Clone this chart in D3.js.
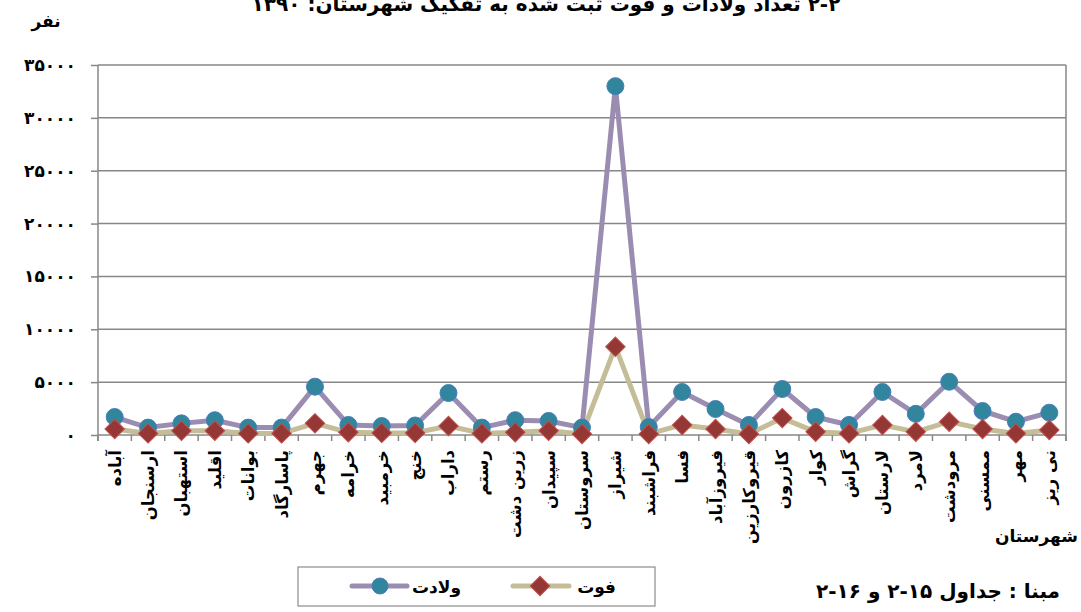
<!DOCTYPE html>
<html><head><meta charset="utf-8">
<script src="https://cdn.jsdelivr.net/npm/d3@7"></script>
<style>
html,body{margin:0;padding:0;background:#fff;}
svg{display:block;font-family:"DejaVu Sans",sans-serif;font-weight:bold;}
</style></head>
<body>
<svg id="c" width="1081" height="612"></svg>
<script>
const categories = ["آباده","ارسنجان","استهبان","اقلید","بوانات","پاسارگاد","جهرم","خرامه","خرمبید","خنج","داراب","رستم","زرین دشت","سپیدان","سروستان","شیراز","فراشبند","فسا","فیروزآباد","قیروکارزین","کازرون","کوار","گراش","لارستان","لامرد","مرودشت","ممسنی","مهر","نی ریز"];
const births = [1700,700,1100,1400,700,700,4570,950,850,900,3970,700,1400,1330,700,33000,750,4070,2460,950,4350,1700,950,4070,2000,5040,2270,1260,2110];
const deaths = [570,150,400,400,150,150,1100,250,200,200,850,150,250,400,100,8350,100,950,570,100,1600,300,150,950,300,1260,570,150,470];
const yTicks = [0,5000,10000,15000,20000,25000,30000,35000];
const seriesNames = ["ولادت","فوت"];
const titleText = "۲-۲ تعداد ولادات و فوت ثبت شده به تفکیک شهرستان: ۱۳۹۰";
const yTitle = "نفر";
const xTitle = "شهرستان";
const sourceText = "مبنا : جداول ۱۵-۲ و ۱۶-۲";

const fa = s => String(s).replace(/\d/g, d => "۰۱۲۳۴۵۶۷۸۹"[d]);

const svg = d3.select("#c");
const L = 98, R = 1066, T = 65, B = 435;
const x = d3.scaleBand().domain(categories).range([L, R]);
const y = d3.scaleLinear().domain([0, 35000]).range([B, T]);
const axisCol = "#878787";

// gridlines
svg.append("g").selectAll("line").data(yTicks.filter(v => v > 0)).join("line")
  .attr("x1", L).attr("x2", R).attr("y1", d => y(d)).attr("y2", d => y(d))
  .attr("stroke", axisCol).attr("stroke-width", 1.5);

// right border
svg.append("line").attr("x1", R).attr("x2", R).attr("y1", T).attr("y2", B + 6)
  .attr("stroke", axisCol).attr("stroke-width", 1.5);

// y axis
const ya = svg.append("g").attr("transform", `translate(${L},0)`)
  .call(d3.axisLeft(y).tickValues(yTicks).tickSize(7).tickPadding(15).tickFormat(fa));
ya.select(".domain").attr("stroke", axisCol).attr("stroke-width", 1.5).attr("d", `M-0,${T}V${B+6}`);
ya.selectAll(".tick line").attr("stroke", axisCol).attr("stroke-width", 1.5);
ya.selectAll(".tick text").attr("font-size", 17).attr("font-weight", "bold")
  .attr("font-family", "DejaVu Sans").attr("fill", "#000").attr("letter-spacing", 4);

// x axis
svg.append("line").attr("x1", L).attr("x2", R).attr("y1", B).attr("y2", B)
  .attr("stroke", axisCol).attr("stroke-width", 1.5);
svg.append("g").selectAll("line").data(categories.map(c => x(c)).concat([R])).join("line")
  .attr("x1", d => d).attr("x2", d => d).attr("y1", B).attr("y2", B + 6)
  .attr("stroke", axisCol).attr("stroke-width", 1.5);
svg.append("g").selectAll("text").data(categories).join("text")
  .attr("transform", d => `translate(${x(d) + x.bandwidth()/2 + 6},${B + 15}) rotate(-90)`)
  .attr("direction", "rtl").attr("text-anchor", "start")
  .attr("font-size", 16.5).attr("fill", "#000").text(d => d);

// lines
const cx = d => x(d) + x.bandwidth() / 2;
const line = vals => d3.line().x((v, i) => cx(categories[i])).y(v => y(v))(vals);
svg.append("path").attr("d", line(births)).attr("fill", "none")
  .attr("stroke", "#9b8db1").attr("stroke-width", 5).attr("stroke-linejoin", "round");
svg.append("path").attr("d", line(deaths)).attr("fill", "none")
  .attr("stroke", "#c4bd97").attr("stroke-width", 5).attr("stroke-linejoin", "round");

svg.append("g").selectAll("circle").data(births).join("circle")
  .attr("cx", (v, i) => cx(categories[i])).attr("cy", v => y(v)).attr("r", 8.5)
  .attr("fill", "#31859c").attr("stroke", "#4a7ebb").attr("stroke-width", 1);
const diamond = d3.symbol().type(d3.symbolSquare).size(190);
svg.append("g").selectAll("path").data(deaths).join("path")
  .attr("d", diamond)
  .attr("transform", (v, i) => `translate(${cx(categories[i])},${y(v)}) rotate(45)`)
  .attr("fill", "#953735").attr("stroke", "#c0504d").attr("stroke-width", 1);

// title (clipped at top, as in the reference)
svg.append("text").attr("x", 546).attr("y", 11).attr("text-anchor", "middle")
  .attr("direction", "rtl").attr("font-size", 20).attr("fill", "#000").text(titleText);
svg.append("text").attr("x", 46).attr("y", 27).attr("text-anchor", "middle")
  .attr("font-size", 17).attr("fill", "#000").text(yTitle);
svg.append("text").attr("x", 1078).attr("y", 542).attr("text-anchor", "end")
  .attr("font-size", 17).attr("fill", "#000").text(xTitle);

// legend
svg.append("rect").attr("x", 298).attr("y", 567).attr("width", 357).attr("height", 39)
  .attr("fill", "#fff").attr("stroke", "#8c8c8c").attr("stroke-width", 1.2);
const lg = [
  {name: seriesNames[0], lx1: 352, lx2: 407, mx: 380, tx: 461, col: "#9b8db1", type: "c"},
  {name: seriesNames[1], lx1: 513, lx2: 569, mx: 540, tx: 616, col: "#c4bd97", type: "d"}
];
lg.forEach(e => {
  svg.append("line").attr("x1", e.lx1).attr("x2", e.lx2).attr("y1", 586).attr("y2", 586)
    .attr("stroke", e.col).attr("stroke-width", 5).attr("stroke-linecap", "round");
  if (e.type === "c") svg.append("circle").attr("cx", e.mx).attr("cy", 586).attr("r", 8)
    .attr("fill", "#31859c").attr("stroke", "#4a7ebb");
  else svg.append("path").attr("d", diamond).attr("transform", `translate(${e.mx},586) rotate(45)`)
    .attr("fill", "#953735").attr("stroke", "#c0504d");
  svg.append("text").attr("x", e.tx).attr("y", 593).attr("text-anchor", "end")
    .attr("font-size", 17).attr("fill", "#000").text(e.name);
});

svg.append("text").attr("x", 1060).attr("y", 598).attr("text-anchor", "start")
  .attr("direction", "rtl").attr("font-size", 20).attr("fill", "#000").text(sourceText);
</script>
</body></html>
